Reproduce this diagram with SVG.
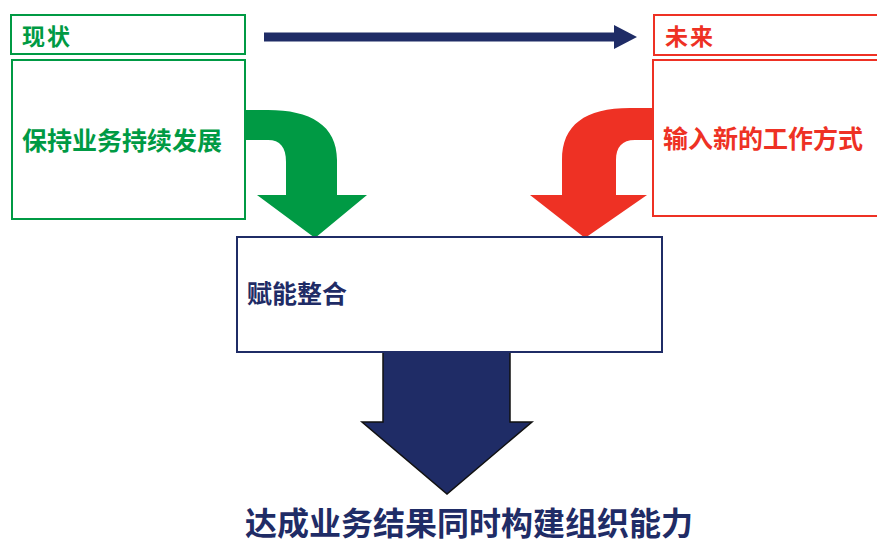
<svg xmlns="http://www.w3.org/2000/svg" width="877" height="545" viewBox="0 0 877 545">
<style>
.t{font-family:"Noto Sans CJK SC","Noto Sans",sans-serif;font-weight:bold}
.g{fill:#009A44}
.r{fill:#EE3124}
.n{fill:#1F2C66}
.box{fill:#fff;stroke-width:2}
</style>
<rect width="877" height="545" fill="#fff"/>
<g id="connectors">
<path d="M264,32.5 L614,32.5 L614,25 L637,37 L614,49 L614,41.5 L264,41.5 Z" class="n"/>
<path d="M245,110 L268,110 C310,110 337,125 337,160 L337,195 L367,195 L315,238 L257,195 L286,195 L286,162 C286,147 280,140 268,140 L245,140 Z" class="g"/>
<path d="M653,108 L630,108 C585,108 562,125 562,160 L562,195 L530,195 L585,238 L647,195 L616,195 L616,160 C616,147 622,140 635,140 L653,140 Z" class="r"/>
<path d="M383,352 L383,422 L362,422 L447,494 L532,422 L510,422 L510,352 Z" class="n" stroke="#111" stroke-width="1.5"/>
</g>
<g id="now-title">
<rect x="11" y="15" width="234" height="39" class="box" stroke="#009A44"/>
<text x="22" y="45" class="t g" font-size="23" letter-spacing="2">现状</text>
</g>
<g id="now-body">
<rect x="12" y="60" width="233" height="159" class="box" stroke="#009A44"/>
<text x="22" y="150" class="t g" font-size="25">保持业务持续发展</text>
</g>
<g id="future-title">
<rect x="654" y="15" width="230" height="40" class="box" stroke="#EE3124"/>
<text x="665" y="45" class="t r" font-size="23" letter-spacing="2">未来</text>
</g>
<g id="future-body">
<rect x="653" y="60" width="230" height="156" class="box" stroke="#EE3124"/>
<text x="663" y="148" class="t r" font-size="25">输入新的工作方式</text>
</g>
<g id="integrate">
<rect x="237" y="237" width="425" height="115" class="box" stroke="#1F2C66"/>
<text x="247" y="303" class="t n" font-size="25">赋能整合</text>
</g>
<g id="result">
<text x="245" y="535" class="t n" font-size="32">达成业务结果同时构建组织能力</text>
</g>
</svg>
